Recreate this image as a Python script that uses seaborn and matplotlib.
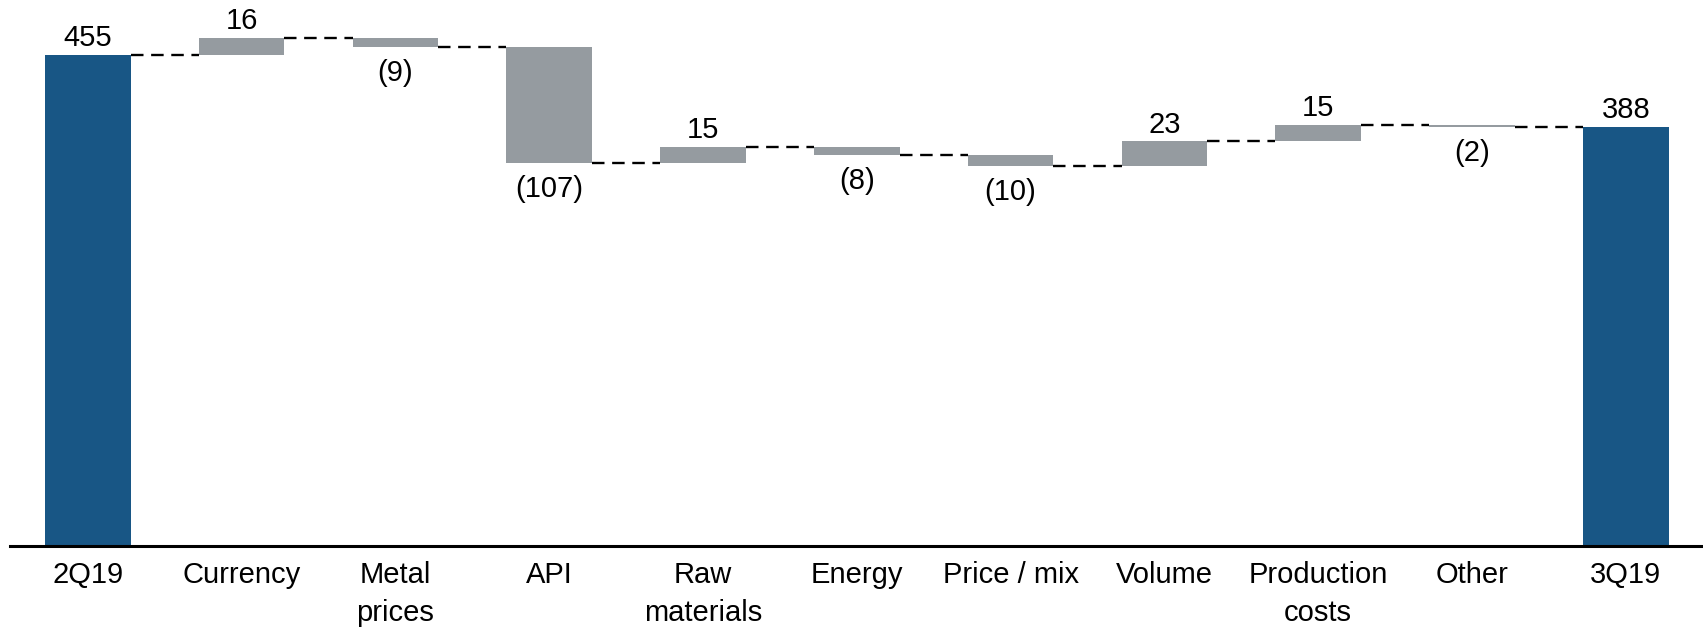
import numpy as np
import pandas as pd
import matplotlib
matplotlib.use("Agg")
import matplotlib.pyplot as plt
import seaborn as sns

categories = ["2Q19", "Currency", "Metal\nprices", "API", "Raw\nmaterials", "Energy",
              "Price / mix", "Volume", "Production\ncosts", "Other", "3Q19"]
values = [455, 16, -9, -107, 15, -8, -10, 23, 15, -2, 388]
kinds = ["total", "delta", "delta", "delta", "delta", "delta", "delta", "delta", "delta", "delta", "total"]

BLUE = "#185685"
GRAY = "#959BA0"

sns.set_theme(style="white")
plt.rcParams["font.family"] = ["Liberation Sans", "DejaVu Sans"]
plt.rcParams["lines.scale_dashes"] = False

# waterfall geometry
bottoms, heights, levels = [], [], []
running = 0
for v, k in zip(values, kinds):
    if k == "total":
        bottoms.append(0)
        heights.append(v)
        running = v
    else:
        if v >= 0:
            bottoms.append(running)
            heights.append(v)
        else:
            bottoms.append(running + v)
            heights.append(-v)
        running += v
    levels.append(running)

df = pd.DataFrame({"cat": categories, "h": heights})

fig = plt.figure(figsize=(17.03, 6.27), dpi=100)
ax = fig.add_axes([10 / 1703, 81.3 / 627, 1 - 10 / 1703, 545.7 / 627])

W = 0.557
sns.barplot(data=df, x="cat", y="h", order=categories, color=GRAY, width=W,
            bottom=np.array(bottoms), saturation=1, linewidth=0, ax=ax)
for p, k in zip(ax.patches, kinds):
    p.set_facecolor(BLUE if k == "total" else GRAY)
    p.set_edgecolor("none")

# connectors
for i in range(len(values) - 1):
    ax.plot([i + W / 2, i + 1 - W / 2], [levels[i], levels[i]], color="black",
            lw=1.7, linestyle=(0, (9, 5.5)), zorder=3)

FS = 21
for i, (v, k, b, h) in enumerate(zip(values, kinds, bottoms, heights)):
    if v >= 0:
        ax.annotate(f"{v}", (i, b + h), xytext=(0, 2), textcoords="offset points",
                    ha="center", va="bottom", fontsize=FS, color="black")
    else:
        ax.annotate(f"({-v})", (i, b), xytext=(0, -8.5), textcoords="offset points",
                    ha="center", va="top", fontsize=FS, color="black")

ax.set_xlim(-0.506, 10.502)
ax.set_ylim(0, 506)
ax.set_xlabel("")
ax.set_ylabel("")
ax.set_yticks([])
ax.tick_params(axis="x", length=0, pad=11, labelsize=FS, colors="black")
for lab in ax.get_xticklabels():
    lab.set_linespacing(1.45)
for s in ["top", "right", "left"]:
    ax.spines[s].set_visible(False)
ax.spines["bottom"].set_color("black")
ax.spines["bottom"].set_linewidth(2.2)
ax.set_facecolor("white")
fig.patch.set_facecolor("white")

fig.savefig("out.png", dpi=100, facecolor="white")
